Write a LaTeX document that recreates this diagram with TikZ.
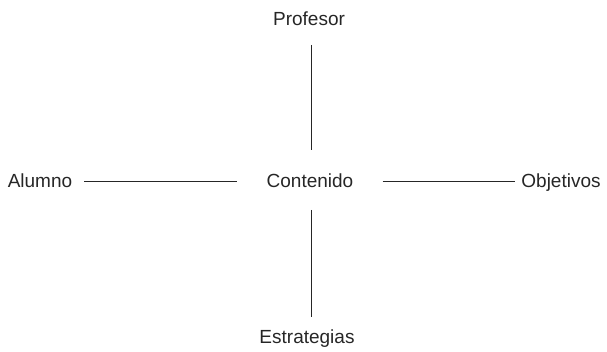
\documentclass[tikz,border=0pt]{standalone}
\usepackage{fontspec}
\setmainfont{Liberation Sans}
\usepackage{tikz}
\usetikzlibrary{positioning}
\tikzset{lbl/.style={inner sep=0pt, anchor=base, font=\fontsize{19}{22}\selectfont, text=black!85},
lnk/.style={draw=black!85, line width=0.8pt}}

\begin{document}
\begin{tikzpicture}[x=1pt,y=-1pt]
\useasboundingbox (0,0) rectangle (607,352);
\node[lbl] (pr) at (309,26) {Profesor};
\node[lbl] (co) at (310,188) {Contenido};
\node[lbl] (es) at (307,343) {Estrategias};
\node[lbl] (al) at (40,188) {Alumno};
\node[lbl] (ob) at (561,188) {Objetivos};

\draw[lnk] ([xshift=1pt,yshift=-19pt]co.base |- pr.base) -- ([xshift=1pt,yshift=38pt]co.base);
\draw[lnk] ([xshift=1pt,yshift=-22pt]co.base) -- ([xshift=1pt,yshift=26pt]co.base |- es.base);
\draw[lnk] ([xshift=12pt,yshift=7pt]al.base east) -- ([xshift=-29pt,yshift=7pt]co.base west);
\draw[lnk] ([xshift=29pt,yshift=7pt]co.base east) -- ([xshift=-6pt,yshift=7pt]ob.base west);
\end{tikzpicture}
\end{document}
